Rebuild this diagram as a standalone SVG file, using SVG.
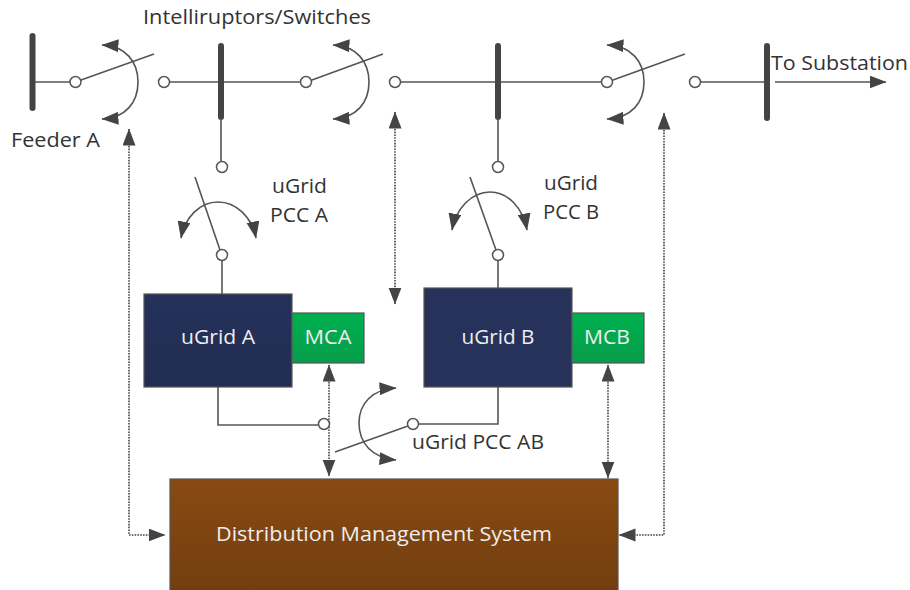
<svg xmlns="http://www.w3.org/2000/svg" width="910" height="590" viewBox="0 0 910 590">
<style>
text{font-family:"Open Sans","Noto Sans","Liberation Sans",sans-serif;font-size:20px;fill:#333}
.w{fill:#eee;text-anchor:middle}
.l{fill:none;stroke:#555;stroke-width:1.6}
.a{fill:none;stroke:#555;stroke-width:1.6}
.d{fill:none;stroke:#444;stroke-width:1.6;stroke-dasharray:1.6 1.2}
.b{fill:none;stroke:#444;stroke-width:6;stroke-linecap:round}
.c{fill:#fff;stroke:#555;stroke-width:1.5}
.box{stroke:#555;stroke-width:1.2}
</style>
<defs>
<marker id="h" markerUnits="userSpaceOnUse" markerWidth="18" markerHeight="14" refX="16.5" refY="6.5" orient="auto-start-reverse"><path d="M0 0L17 6.5L0 13z" fill="#444"/></marker>
<linearGradient id="g" x1="0" y1="0" x2="0" y2="1"><stop offset="0" stop-color="#00b14f"/><stop offset="1" stop-color="#069c4b"/></linearGradient>
<linearGradient id="br" x1="0" y1="0" x2="0" y2="1"><stop offset="0" stop-color="#884a12"/><stop offset="1" stop-color="#733e0f"/></linearGradient>
<linearGradient id="nv" x1="0" y1="0" x2="0" y2="1"><stop offset="0" stop-color="#243159"/><stop offset="1" stop-color="#222d52"/></linearGradient>
</defs>
<g id="connectors">
<path class="l" d="M35 82H70M170 82H300M401 82H601M701 82H767M221 120V161M498 120V161M222 261V294M498 261V288M218 387V425H319M419 424H498V387"/>
<path class="l" marker-end="url(#h)" d="M775 82H886"/>
<path class="d" marker-start="url(#h)" marker-end="url(#h)" d="M129 129V535H165"/>
<path class="d" marker-start="url(#h)" marker-end="url(#h)" d="M395 112V304"/>
<path class="d" marker-start="url(#h)" marker-end="url(#h)" d="M664 113V535H619"/>
<path class="d" marker-start="url(#h)" marker-end="url(#h)" d="M329 365V476"/>
<path class="d" marker-start="url(#h)" marker-end="url(#h)" d="M608 365V478"/>
</g>
<g id="bus-feeder-a"><path class="b" d="M32.5 36V108"/></g>
<g id="bus-1"><path class="b" d="M221 46V117"/></g>
<g id="bus-2"><path class="b" d="M498 46V117"/></g>
<g id="bus-3"><path class="b" d="M767 46V118"/></g>
<g id="switch-1">
<circle class="c" cx="75.5" cy="82" r="5.5"/><circle class="c" cx="164" cy="82" r="5.5"/>
<path class="l" d="M81 80L154 54"/>
<path class="a" marker-start="url(#h)" marker-end="url(#h)" d="M102 45C126 46 138 62 138 82C138 102 126 118 102 119"/>
</g>
<g id="switch-2">
<circle class="c" cx="306" cy="82" r="5.5"/><circle class="c" cx="395" cy="82" r="5.5"/>
<path class="l" d="M312 80L383 54"/>
<path class="a" marker-start="url(#h)" marker-end="url(#h)" d="M333 45C357 46 369 62 369 82C369 102 357 118 333 119"/>
</g>
<g id="switch-3">
<circle class="c" cx="607" cy="82" r="5.5"/><circle class="c" cx="695" cy="82" r="5.5"/>
<path class="l" d="M613 80L685 54"/>
<path class="a" marker-start="url(#h)" marker-end="url(#h)" d="M607 45C632 46 644 62 644 82C644 102 632 118 607 119"/>
</g>
<g id="pcc-a">
<circle class="c" cx="222" cy="167" r="5.5"/><circle class="c" cx="222" cy="255" r="5.5"/>
<path class="l" d="M220 250L195 177"/>
<path class="a" marker-start="url(#h)" marker-end="url(#h)" d="M181 238C185 217 200 202 218 202C236 202 252 217 256 238"/>
</g>
<g id="pcc-b">
<circle class="c" cx="498" cy="167" r="5.5"/><circle class="c" cx="498" cy="255" r="5.5"/>
<path class="l" d="M496 250L470 177"/>
<path class="a" marker-start="url(#h)" marker-end="url(#h)" d="M452 230C456 208 472 192 490 192C508 192 523 208 527 230"/>
</g>
<g id="pcc-ab">
<circle class="c" cx="324" cy="424" r="5.5"/><circle class="c" cx="413" cy="424" r="5.5"/>
<path class="l" d="M408 426L335 452"/>
<path class="a" marker-start="url(#h)" marker-end="url(#h)" d="M396 388C372 389 359 404 359 423C359 443 372 458 396 460"/>
</g>
<g id="ugrid-a"><rect class="box" x="144" y="294" width="148" height="93" fill="url(#nv)"/><text class="w" x="218" y="344" textLength="74" lengthAdjust="spacingAndGlyphs">uGrid A</text></g>
<g id="mca"><rect class="box" x="292" y="313" width="72" height="50" fill="url(#g)"/><text class="w" x="328" y="344" textLength="47" lengthAdjust="spacingAndGlyphs">MCA</text></g>
<g id="ugrid-b"><rect class="box" x="424" y="288" width="148" height="99" fill="#26325a" stroke="#26325a"/><text class="w" x="498" y="344" textLength="73" lengthAdjust="spacingAndGlyphs">uGrid B</text></g>
<g id="mcb"><rect class="box" x="572" y="313" width="72" height="50" fill="url(#g)"/><text class="w" x="607" y="344" textLength="46" lengthAdjust="spacingAndGlyphs">MCB</text></g>
<g id="dms"><rect class="box" x="170" y="479" width="448" height="112" fill="url(#br)"/><text class="w" x="384" y="541" textLength="336" lengthAdjust="spacingAndGlyphs">Distribution Management System</text></g>
<g id="labels">
<text x="143" y="24" textLength="228" lengthAdjust="spacingAndGlyphs">Intelliruptors/Switches</text>
<text x="11" y="147" textLength="89" lengthAdjust="spacingAndGlyphs">Feeder A</text>
<text x="272" y="193" textLength="55" lengthAdjust="spacingAndGlyphs">uGrid</text>
<text x="270" y="222" textLength="58" lengthAdjust="spacingAndGlyphs">PCC A</text>
<text x="544" y="190" textLength="54" lengthAdjust="spacingAndGlyphs">uGrid</text>
<text x="543" y="219" textLength="56" lengthAdjust="spacingAndGlyphs">PCC B</text>
<text x="771" y="70" textLength="137" lengthAdjust="spacingAndGlyphs">To Substation</text>
<text x="412" y="449" textLength="132" lengthAdjust="spacingAndGlyphs">uGrid PCC AB</text>
</g>
</svg>
